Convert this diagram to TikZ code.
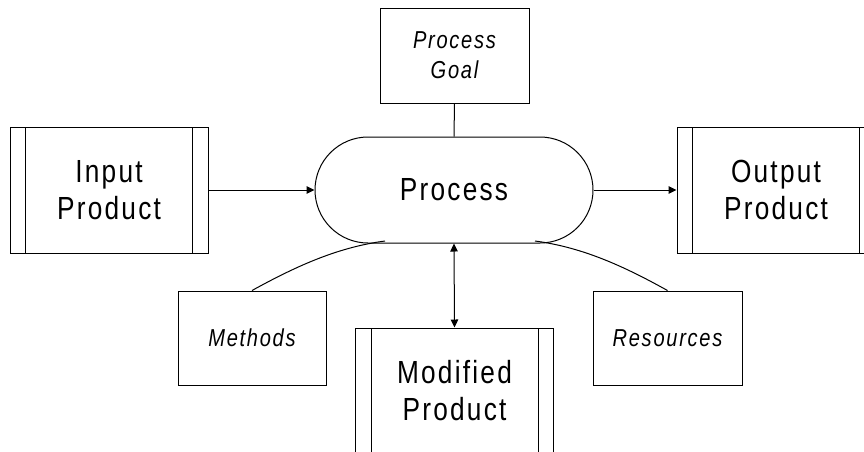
\documentclass[tikz,border=0pt]{standalone}
\usepackage{fontspec}
\setmainfont{Liberation Sans}
% condensed, tracked-out sans for all labels
\newfontfamily\diagfont[FakeStretch=0.82,LetterSpace=7]{Liberation Sans}
\usetikzlibrary{arrows.meta}

\tikzset{
  base/.style={draw=black, line width=1pt, inner sep=0pt, align=center},
  bigtext/.style={font=\diagfont\fontsize{32}{37}\selectfont},
  smalltext/.style={font=\diagfont\fontsize{24.5}{30}\selectfont\itshape},
  product/.style={base, bigtext, rectangle, minimum width=198pt, minimum height=126pt,
    path picture={
      \draw[line width=1pt] ([xshift=15.5pt]path picture bounding box.north west) -- ([xshift=15.5pt]path picture bounding box.south west);
      \draw[line width=1pt] ([xshift=-15.5pt]path picture bounding box.north east) -- ([xshift=-15.5pt]path picture bounding box.south east);
    }},
  infobox/.style={base, smalltext, rectangle, minimum width=148pt, minimum height=94pt},
  procbox/.style={base, bigtext, rectangle, rounded corners=53pt, minimum width=278pt, minimum height=106pt},
  link/.style={line width=1pt},
  flow/.style={link, -{Triangle[length=8pt,width=7.5pt]}},
  twoway/.style={link, {Triangle[length=8pt,width=7.5pt]}-{Triangle[length=8pt,width=7.5pt]}}
}

\begin{document}
\begin{tikzpicture}[x=1pt, y=-1pt]
  \useasboundingbox (0,0) rectangle (864,451);
  \clip (0,0) rectangle (864,451);

  % nodes
  \node[procbox] (proc) at (454,190) {Process};
  \node[product] (input) at (109,190) {Input\\Product};
  \node[product] (output) at (776,190) {Output\\Product};
  \node[product] (mod) at (454.5,391) {Modified\\Product};
  \node[infobox, minimum width=149pt, minimum height=95pt] (goal) at (454.5,55.5) {Process\\Goal};
  \node[infobox] (methods) at (252,338) {Methods};
  \node[infobox, minimum width=149pt] (resources) at (667.5,338) {Resources};

  % free ends of the support curves, just past the process outline
  \coordinate (mend) at (385,241);
  \coordinate (rend) at (535,241);

  % connectors
  \draw[flow] (input.east) -- (proc.west);
  \draw[flow] (proc.east) -- (output.west);
  \draw[link] (goal.south) -- (proc.north);
  \draw[twoway] (proc.south) -- (mod.north);
  \draw[link] (methods.north) .. controls (300,264) and (340,247) .. (mend);
  \draw[link] (resources.north) .. controls (620,264) and (580,247) .. (rend);
\end{tikzpicture}
\end{document}
